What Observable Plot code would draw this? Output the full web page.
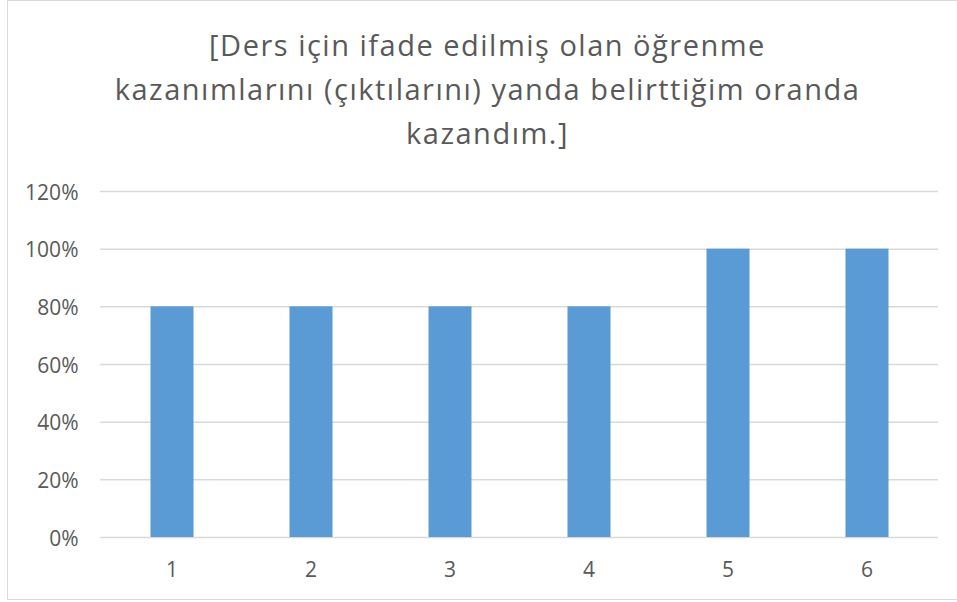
<!DOCTYPE html>
<html>
<head>
<meta charset="utf-8">
<script src="https://cdn.jsdelivr.net/npm/d3@7"></script>
<script src="https://cdn.jsdelivr.net/npm/@observablehq/plot@0.6"></script>
<style>
  html, body { margin: 0; padding: 0; background: #fff; }
  body { width: 957px; height: 602px; position: relative; overflow: hidden; font-family: "Open Sans", sans-serif; }
  #frame { position: absolute; left: 7px; top: 0px; width: 970px; height: 600px; border: 1px solid #d9d9d9; box-sizing: border-box; }
  #title { position: absolute; left: 0; top: 23px; width: 975px; text-align: center; color: #595959; font-size: 29px; line-height: 44px; letter-spacing: 1.5px; }
  #chart { position: absolute; left: 0; top: 160px; }
</style>
</head>
<body>
<div id="frame"></div>
<div id="title">[Ders için ifade edilmiş olan öğrenme<br>kazanımlarını (çıktılarını) yanda belirttiğim oranda<br>kazandım.]</div>
<div id="chart"></div>
<script>
const categories = ["1", "2", "3", "4", "5", "6"];
const values = [0.8, 0.8, 0.8, 0.8, 1.0, 1.0];
const yTicks = [0, 0.2, 0.4, 0.6, 0.8, 1.0, 1.2];

const data = categories.map((c, i) => ({category: c, value: values[i]}));
const pct = d => Math.round(d * 100) + "%";

const chart = Plot.plot({
  width: 957,
  height: 440,
  marginLeft: 100,
  marginRight: 19,
  marginTop: 31,
  marginBottom: 63,
  style: {fontFamily: "Open Sans, sans-serif", color: "#595959", background: "transparent"},
  x: {domain: categories, padding: 0, label: null, axis: null},
  y: {domain: [0, 1.2], label: null, axis: null},
  marks: [
    Plot.gridY(yTicks, {stroke: "#d9d9d9", strokeOpacity: 1, strokeWidth: 1.5}),
    Plot.barY(data, {x: "category", y: "value", fill: "#5b9bd5", insetLeft: 48.5, insetRight: 47.5}),
    Plot.text(categories, {x: d => d, frameAnchor: "bottom", lineAnchor: "middle", dy: 33, text: d => d, fill: "#595959", fontSize: 21, fontFamily: "Open Sans"}),
    Plot.text(yTicks, {y: d => d, frameAnchor: "left", lineAnchor: "middle", dx: -22, dy: 1.5, textAnchor: "end", text: pct, fill: "#595959", fontSize: 21, fontFamily: "Open Sans"})
  ]
});
document.getElementById("chart").appendChild(chart);
</script>
</body>
</html>
